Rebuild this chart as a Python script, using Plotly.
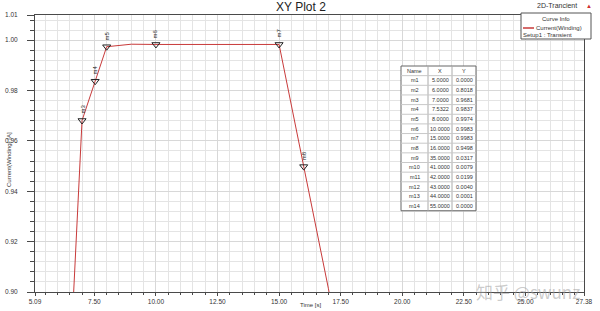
import plotly.graph_objects as go

# ---------------- data ----------------
curve_t = [5.0, 6.0, 6.5, 7.0, 7.5322, 8.0, 9.0, 10.0, 15.0, 16.0, 17.0, 18.0]
curve_i = [0.0, 0.8018, 0.868, 0.9681, 0.9837, 0.9974, 0.9984, 0.9983, 0.9983, 0.9498, 0.9015, 0.85]

marker_names = ["m1", "m2", "m3", "m4", "m5", "m6", "m7", "m8", "m9", "m10", "m11", "m12", "m13", "m14"]
marker_x = [5.0, 6.0, 7.0, 7.5322, 8.0, 10.0, 15.0, 16.0, 35.0, 41.0, 42.0, 43.0, 44.0, 55.0]
marker_y = [0.0, 0.8018, 0.9681, 0.9837, 0.9974, 0.9983, 0.9983, 0.9498, 0.0317, 0.0079, 0.0199, 0.0040, 0.0001, 0.0000]

x_tickvals = [5.09, 7.5, 10.0, 12.5, 15.0, 17.5, 20.0, 22.5, 25.0, 27.38]
x_ticktext = ["5.09", "7.50", "10.00", "12.50", "15.00", "17.50", "20.00", "22.50", "25.00", "27.38"]
y_tickvals = [0.90, 0.92, 0.94, 0.96, 0.98, 1.00, 1.01]
y_ticktext = ["0.90", "0.92", "0.94", "0.96", "0.98", "1.00", "1.01"]

XMIN, XMAX = 5.09, 27.38
YMIN, YMAX = 0.90, 1.01

# ---------------- layout geometry (pixels) ----------------
W, H = 600, 311
L, R, T, B = 35, 584, 15, 292
PW, PH = R - L, B - T


def px(xp):
    return (xp - L) / PW


def py(yp):
    return (B - yp) / PH


FONT = "Arial, Liberation Sans, sans-serif"
AXC = "#4a4a4a"
GRID = "#e4e4e4"

fig = go.Figure()
fig.add_trace(go.Scatter(x=curve_t, y=curve_i, mode="lines",
                         line=dict(color="#c83a3a", width=1), showlegend=False,
                         hoverinfo="skip"))

vis = [i for i in range(len(marker_x)) if XMIN <= marker_x[i] <= XMAX and YMIN <= marker_y[i] <= YMAX]
fig.add_trace(go.Scatter(x=[marker_x[i] for i in vis], y=[marker_y[i] for i in vis], mode="markers",
                         marker=dict(symbol="triangle-down-open", size=7, color="#222",
                                     line=dict(width=1, color="#222")),
                         showlegend=False, hoverinfo="skip"))

annotations = []
for i in vis:
    annotations.append(dict(x=marker_x[i], y=marker_y[i], xref="x", yref="y", text=marker_names[i],
                            showarrow=False, textangle=-90, yshift=11, xshift=0,
                            font=dict(size=6, color="#222", family=FONT)))


def txt(xp, yp, text, size=6, color="#333", anchor="center", family=FONT, angle=0):
    annotations.append(dict(x=px(xp), y=py(yp), xref="paper", yref="paper", text=text,
                            showarrow=False, xanchor=anchor, yanchor="middle", textangle=angle,
                            borderpad=0, font=dict(size=size, color=color, family=family)))


# title and header texts
txt(301, 7, "XY Plot 2", size=12, color="#222")
txt(557, 6, "2D-Trancient", size=7)
txt(589, 6, "▲", size=6, color="#d03030")

# axis titles
txt(9, 160, "Current(Winding) [A]", angle=-90)
txt(310, 305, "Time [s]")

shapes = []
# legend box
shapes.append(dict(type="rect", xref="paper", yref="paper", x0=px(521), x1=px(591), y0=py(13), y1=py(39),
                   line=dict(color="#555", width=1), fillcolor="white", layer="above"))
shapes.append(dict(type="line", xref="paper", yref="paper", x0=px(523), x1=px(534), y0=py(28), y1=py(28),
                   line=dict(color="#c83a3a", width=1.5), layer="above"))
txt(556, 19, "Curve Info")
txt(535, 28, "Current(Winding)", anchor="left")
txt(522, 34.5, "Setup1 : Transient", anchor="left")

# marker table
col_edges = [401, 428, 452, 476]
row_h = 9.65
top = 66
nrows = len(marker_names) + 1
bottom = top + nrows * row_h
shapes.append(dict(type="rect", xref="paper", yref="paper", x0=px(col_edges[0]), x1=px(col_edges[-1]),
                   y0=py(top), y1=py(bottom), line=dict(color="#666", width=1), fillcolor="white",
                   layer="above"))
for ce in col_edges[1:-1]:
    shapes.append(dict(type="line", xref="paper", yref="paper", x0=px(ce), x1=px(ce), y0=py(top), y1=py(bottom),
                       line=dict(color="#aaa", width=1), layer="above"))
for r in range(1, nrows):
    yy = top + r * row_h
    shapes.append(dict(type="line", xref="paper", yref="paper", x0=px(col_edges[0]), x1=px(col_edges[-1]),
                       y0=py(yy), y1=py(yy), line=dict(color="#c8c8c8", width=1), layer="above"))

headers = ["Name", "X", "Y"]
rows = [headers] + [[marker_names[i], "%.4f" % marker_x[i], "%.4f" % marker_y[i]] for i in range(len(marker_names))]
for r, row in enumerate(rows):
    yc = top + (r + 0.5) * row_h
    for c, t in enumerate(row):
        xc = (col_edges[c] + col_edges[c + 1]) / 2
        txt(xc, yc, t, size=5.5)

# watermark
txt(528, 291, "知乎 @swunz", size=17, color="rgba(160,160,160,0.55)", family="Noto Sans CJK SC, sans-serif")

fig.update_layout(
    width=W, height=H,
    margin=dict(l=L, r=W - R, t=T, b=H - B, autoexpand=False),
    paper_bgcolor="white", plot_bgcolor="white",
    showlegend=False,
    annotations=annotations, shapes=shapes,
    font=dict(family=FONT, size=6, color="#333"),
)
fig.update_xaxes(range=[XMIN, XMAX], tickmode="array", tickvals=x_tickvals, ticktext=x_ticktext,
                 automargin=False,
                 showline=True, linecolor=AXC, linewidth=1, mirror=True,
                 ticks="outside", ticklen=3, tickcolor=AXC, tickfont=dict(size=6.5, family=FONT, color="#333"),
                 showgrid=True, gridcolor="#d8d8d8", gridwidth=1, zeroline=False,
                 minor=dict(tickmode="linear", tick0=5.0, dtick=0.5, ticks="outside", ticklen=2,
                            tickcolor=AXC, showgrid=True, gridcolor=GRID))
fig.update_yaxes(range=[YMIN, YMAX], tickmode="array", tickvals=y_tickvals, ticktext=y_ticktext,
                 automargin=False,
                 showline=True, linecolor=AXC, linewidth=1, mirror=True,
                 ticks="outside", ticklen=7, tickcolor=AXC, ticklabelstandoff=8,
                 tickfont=dict(size=6.5, family=FONT, color="#333"),
                 showgrid=True, gridcolor="#d8d8d8", gridwidth=1, zeroline=False,
                 minor=dict(tickmode="linear", tick0=0.90, dtick=0.004, ticks="outside", ticklen=4,
                            tickcolor=AXC, showgrid=True, gridcolor=GRID))

fig.write_html("out.html")
